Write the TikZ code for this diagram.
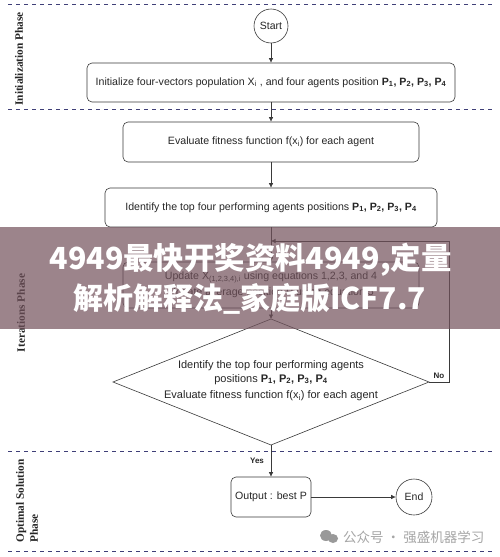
\documentclass[tikz,border=0pt]{standalone}
\usepackage{fontspec}
\setmainfont{Liberation Sans}
\newfontfamily\serifphase{Liberation Serif}
\newfontfamily\cjkband{Noto Sans CJK SC}
\usetikzlibrary{arrows.meta,calc}
\definecolor{ink}{HTML}{3A3A3A}
\definecolor{dashblue}{HTML}{3F3F78}
\definecolor{band}{HTML}{72515B}
\tikzset{
 x=1pt,y=-1pt,
 flow/.style={draw=ink,line width=0.6pt,rounded corners=5pt,inner sep=0pt,align=center,font=\fontsize{10.6}{12.5}\selectfont,text=black!85},
 term/.style={draw=ink,line width=0.6pt,circle,inner sep=0pt,font=\fontsize{10.5}{12}\selectfont,text=black!85},
 dec/.style={draw=ink,line width=0.6pt},
 conn/.style={draw=ink,line width=0.6pt,-{Latex[length=4.5pt,width=4.5pt]}},
 phase/.style={font=\serifphase\bfseries\fontsize{11.3}{14}\selectfont,rotate=90,text=black!85,align=left},
 sep/.style={draw=dashblue,line width=1pt,dash pattern=on 4pt off 4pt},
 lab/.style={font=\bfseries\fontsize{8}{10}\selectfont,text=black!85},
}
\newcommand{\sbx}[1]{\textsubscript{#1}}
\newcommand{\PP}[1]{\textbf{P\textsubscript{#1}}}
\begin{document}
\begin{tikzpicture}
\useasboundingbox (0,0) rectangle (500,557);
\fill[white] (0,0) rectangle (500,557);
\coordinate (d1l) at (8,4); \coordinate (d1r) at (495,4);
\coordinate (d2l) at (8,109); \coordinate (d2r) at (495,109);
\coordinate (d3l) at (8,451); \coordinate (d3r) at (495,451);
\coordinate (d4l) at (8,551); \coordinate (d4r) at (495,551);
\draw[sep] (d1l)--(d1r); \draw[sep] (d2l)--(d2r); \draw[sep] (d3l)--(d3r); \draw[sep] (d4l)--(d4r);
\node[term,minimum size=34pt] (start) at (271,26) {Start};
\node[flow,minimum width=368pt,minimum height=39pt] (init) at (271,82.5) {Initialize four-vectors population X\sbx{i} , and four agents position \PP1\textbf{,} \PP2\textbf{,} \PP3\textbf{,} \PP4};
\node[flow,minimum width=296pt,minimum height=40pt] (eval) at (271,142) {Evaluate fitness function f(x\sbx{i}) for each agent};
\node[flow,minimum width=332pt,minimum height=39pt] (iden) at (271,207.5) {Identify the top four performing agents positions \PP1\textbf{,} \PP2\textbf{,} \PP3\textbf{,} \PP4};
\node[flow,minimum width=296pt,minimum height=46pt] (upd) at (271,285) {Update X\sbx{(1,2,3,4),i} using equations 1,2,3, and 4\\[4pt]Update average position $\bar{\mathrm{P}}$ using equation 5};
\coordinate (dt) at (271,319); \coordinate (dr) at (429,382); \coordinate (db) at (271,445); \coordinate (dl) at (113,382);
\draw[dec] (dt)--(dr)--(db)--(dl)--cycle;
\node[align=center,inner sep=0pt,font=\fontsize{11}{13.5}\selectfont,text=black!85] (dtext) at (271,381) {Identify the top four performing agents\\positions \PP1\textbf{,} \PP2\textbf{,} \PP3\textbf{,} \PP4\\[3pt]Evaluate fitness function f(x\sbx{i}) for each agent};
\node[flow,minimum width=80pt,minimum height=40pt] (out) at (271,497) {Output : best P};
\node[term,minimum size=36pt] (end) at (414,497) {End};
\draw[conn] (start)--(init);
\draw[conn] (init)--(eval);
\draw[conn] (eval)--(iden);
\draw[conn] (iden)--(upd);
\draw[conn] (upd)--(dt);
\coordinate (lj) at (271,241);
\coordinate (lc1) at (449,382); \coordinate (lc2) at (449,241);
\draw[conn] (dr)--(lc1)--(lc2)--(lj);
\draw[conn] (db)--(out);
\draw[conn] (out)--(end);
\node[lab] (no) at (439,375.5) {No};
\node[lab] (yes) at (257,461) {Yes};
\node[phase] (p1) at (19,59) {Initialization Phase};
\node[phase] (p2) at (21,313) {Iterations Phase};
\node[phase] (p3) at (27,501) {Optimal Solution\\Phase};
\fill[band,opacity=0.7] (0,227) rectangle (500,329);
\node[text=white,font=\cjkband\bfseries\fontsize{30.4}{30}\selectfont,inner sep=0pt] (t1) at (250.5,260) {4949最快开奖资料4949,定量};
\node[text=white,font=\cjkband\bfseries\fontsize{30}{30}\selectfont,inner sep=0pt] (t2) at (249.5,299) {解析解释法\_家庭版ICF7.7};
\node[text=black!35,font=\cjkband\fontsize{13.5}{13.5}\selectfont,inner sep=0pt,anchor=west] (wm) at (343,537) {公众号 · 强盛机器学习};
\fill[black!40] (326,535.5) ellipse (6pt and 5.5pt);
\fill[black!40] (333,538.5) ellipse (5pt and 4.5pt);
\end{tikzpicture}
\end{document}
